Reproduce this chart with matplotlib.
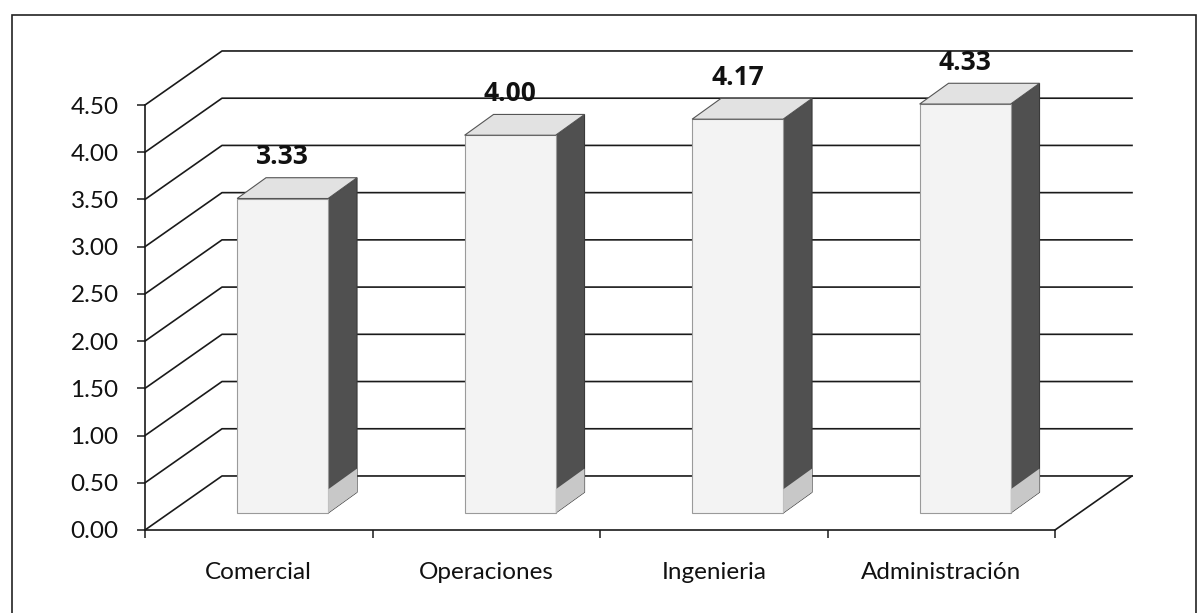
import numpy as np
import matplotlib.pyplot as plt
from matplotlib.patches import Polygon, Rectangle

# data
categories = ['Comercial', 'Operaciones', 'Ingenieria', 'Administración']
values = [3.33, 4.00, 4.17, 4.33]
y_ticks = np.arange(0, 4.51, 0.5)

plt.rcParams['font.family'] = ['Lato', 'DejaVu Sans']

fig = plt.figure(figsize=(11.98, 6.13), dpi=100)
W, H = 1198, 613

# front plane of the 3d box (pixels -> figure fraction)
ax = fig.add_axes([145 / W, (H - 530) / H, 910 / W, 425 / H])
ax.set_xlim(0, 4)
ax.set_ylim(0, 4.5)

line_col = '#1a1a1a'

# depth of the box in data units
wdx, wdy = 0.3385, 0.572
# bar placement inside the depth
fdx, fdy = 0.105, 0.18
sdx, sdy = 0.127, 0.22
bw = 0.40

# back wall gridlines + left wall diagonals
for g in y_ticks:
    ax.plot([0, wdx, 4 + wdx], [g, g + wdy, g + wdy], color=line_col,
            lw=1.2, clip_on=False, zorder=1)
# right floor edge
ax.plot([4, 4 + wdx], [0, wdy], color=line_col, lw=1.2, clip_on=False, zorder=1)

# bars drawn as 3d boxes
for i, v in enumerate(values):
    x0 = i + 0.5 - bw / 2 + fdx
    x1 = x0 + bw
    y0 = fdy
    y1 = v + fdy
    front = Polygon([(x0, y0), (x1, y0), (x1, y1), (x0, y1)], closed=True,
                    facecolor='#f3f3f3', edgecolor='#9a9a9a', lw=0.8,
                    clip_on=False, zorder=3)
    side = Polygon([(x1, y0), (x1 + sdx, y0 + sdy), (x1 + sdx, y1 + sdy), (x1, y1)],
                   closed=True, facecolor='#505050', edgecolor='#3a3a3a', lw=0.8,
                   clip_on=False, zorder=3)
    top = Polygon([(x0, y1), (x1, y1), (x1 + sdx, y1 + sdy), (x0 + sdx, y1 + sdy)],
                  closed=True, facecolor='#e2e2e2', edgecolor='#555555', lw=0.8,
                  clip_on=False, zorder=3)
    ax.add_patch(side)
    ax.add_patch(front)
    ax.add_patch(top)
    # lighter bottom part of the side face
    ax.add_patch(Polygon([(x1, y0), (x1 + sdx, y0 + sdy), (x1 + sdx, y0 + sdy + 0.25),
                          (x1, y0 + 0.25)], closed=True, facecolor='#c8c8c8',
                         edgecolor='none', clip_on=False, zorder=3.5))
    ax.text(x0 + bw / 2, v + fdy + sdy + 0.14, f'{v:.2f}', ha='center', va='baseline',
            fontsize=19, fontweight='bold', family=['Open Sans', 'DejaVu Sans'],
            color='#111111', clip_on=False, zorder=4)

# axes
for s in ['top', 'right']:
    ax.spines[s].set_visible(False)
for s in ['left', 'bottom']:
    ax.spines[s].set_color(line_col)
    ax.spines[s].set_linewidth(1.2)
ax.patch.set_visible(False)

ax.set_yticks(y_ticks)
ax.set_yticklabels([f'{t:.2f}' for t in y_ticks])
ax.tick_params(axis='y', direction='out', length=6, width=1.1, color=line_col,
               labelsize=17.5, pad=13, labelcolor='#111111')

ax.set_xticks(np.arange(0, 5))
ax.set_xticklabels([])
ax.set_xticks(np.arange(4) + 0.5, minor=True)
ax.set_xticklabels(categories, minor=True)
ax.tick_params(axis='x', which='major', direction='out', length=6, width=1.1,
               color=line_col)
ax.tick_params(axis='x', which='minor', length=0, labelsize=17.5, pad=23,
               labelcolor='#111111')

# outer chart border
fig.patches.append(Rectangle((12 / W, -0.02), (1196 - 12) / W, 1.02 - 15 / H,
                             transform=fig.transFigure, fill=False,
                             edgecolor='#222222', lw=1.2))

fig.savefig('out.png', dpi=100)
